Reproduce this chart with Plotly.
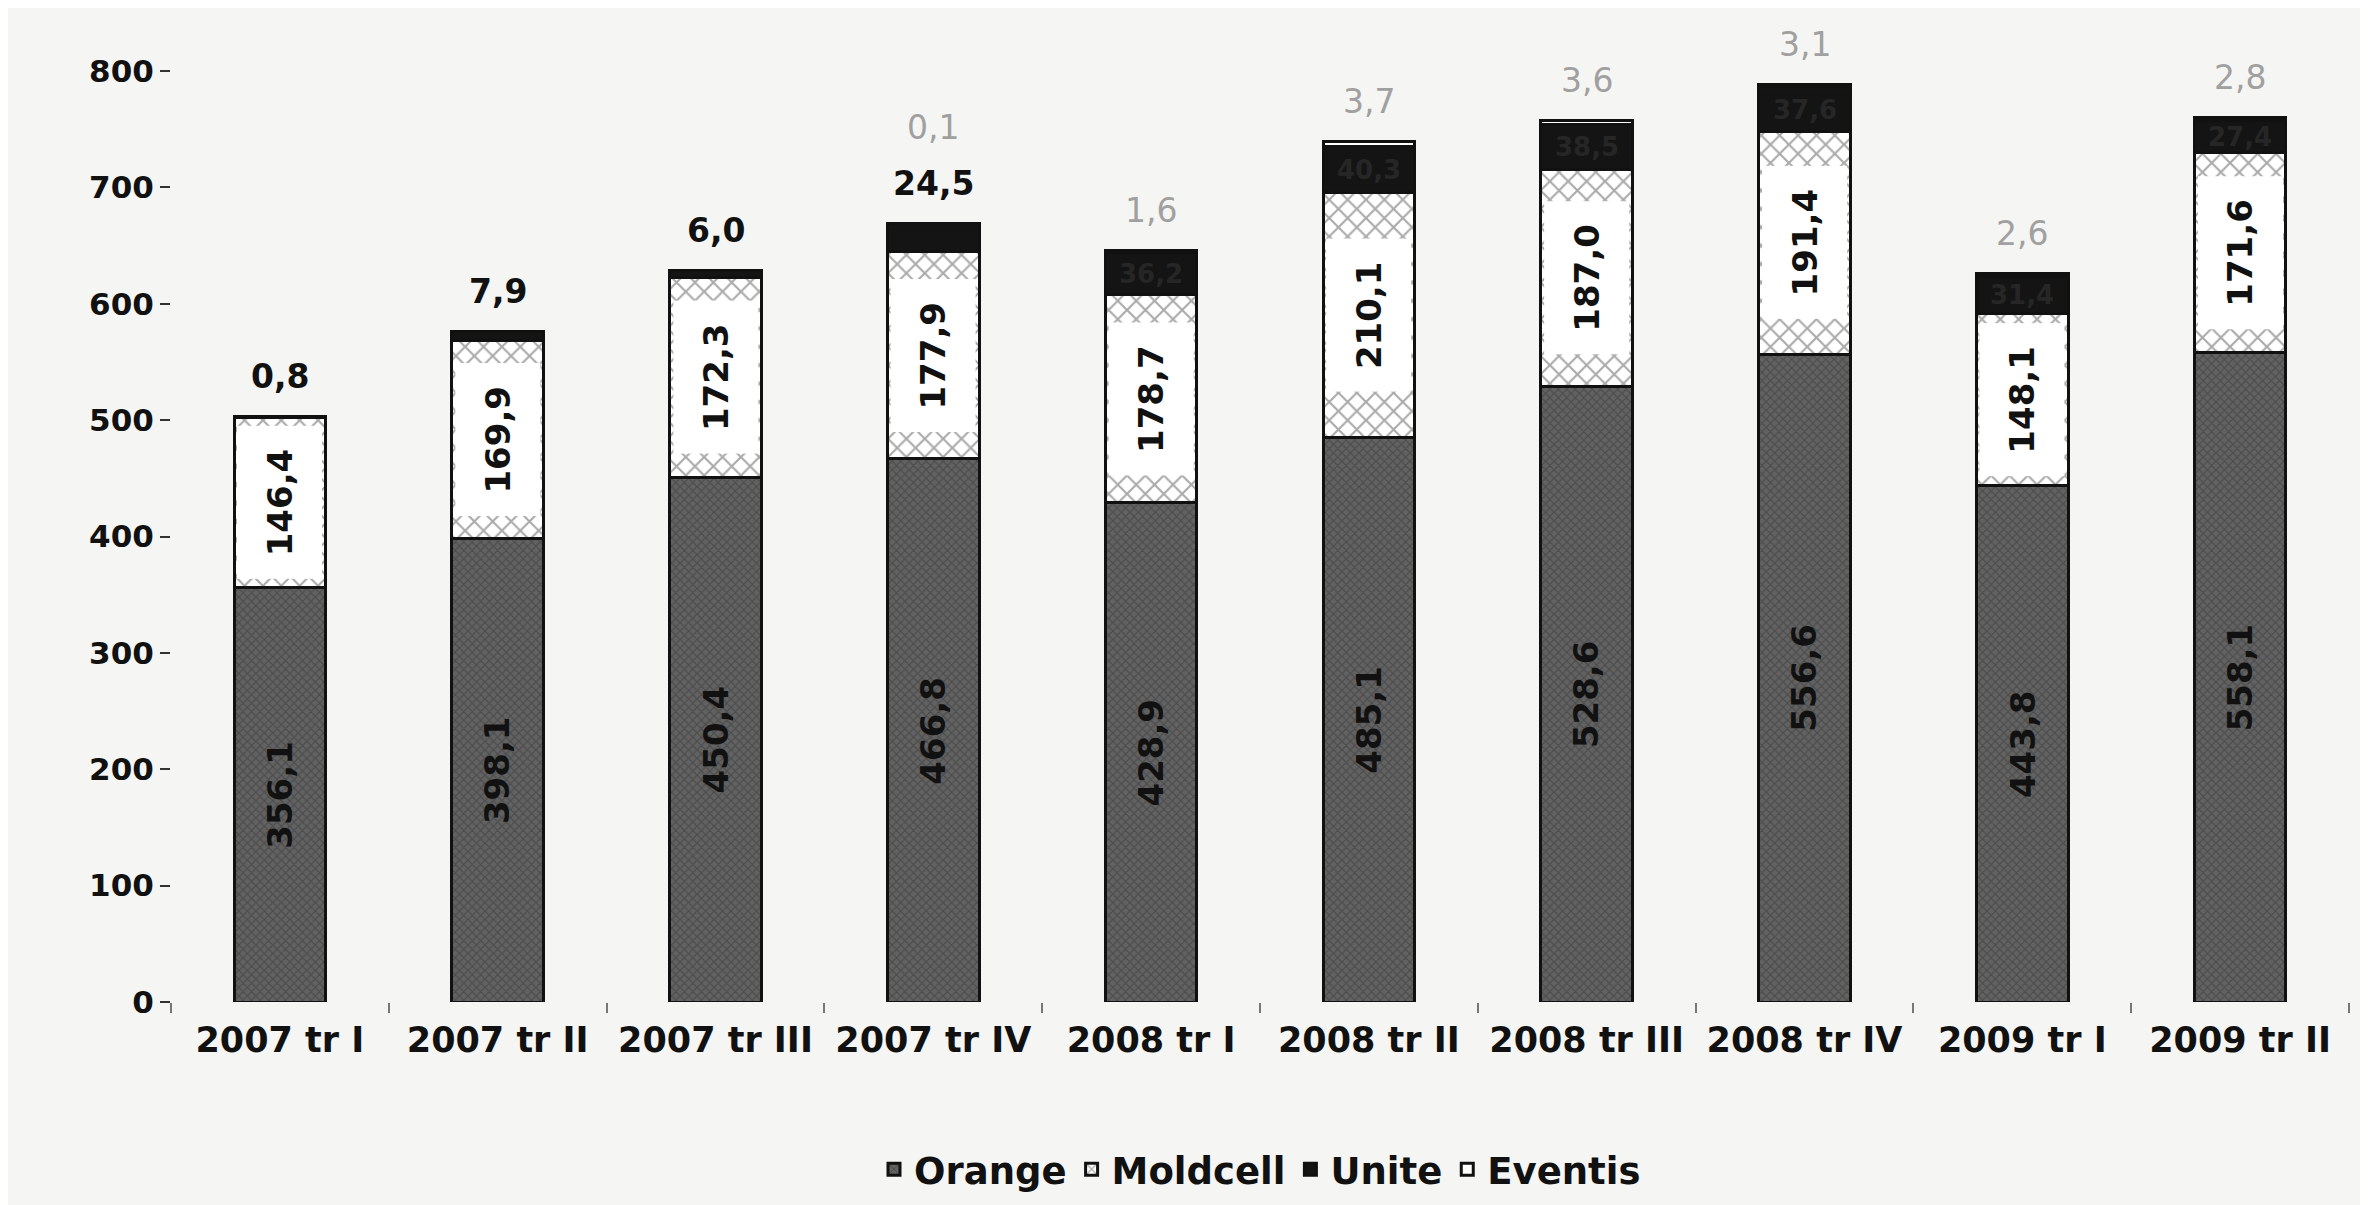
import plotly.graph_objects as go

categories = ["2007 tr I", "2007 tr II", "2007 tr III", "2007 tr IV", "2008 tr I",
              "2008 tr II", "2008 tr III", "2008 tr IV", "2009 tr I", "2009 tr II"]
orange = [356.1, 398.1, 450.4, 466.8, 428.9, 485.1, 528.6, 556.6, 443.8, 558.1]
moldcell = [146.4, 169.9, 172.3, 177.9, 178.7, 210.1, 187.0, 191.4, 148.1, 171.6]
unite = [0.8, 7.9, 6.0, 24.5, 36.2, 40.3, 38.5, 37.6, 31.4, 27.4]
eventis = [0, 0, 0, 0.1, 1.6, 3.7, 3.6, 3.1, 2.6, 2.8]
y_ticks = [0, 100, 200, 300, 400, 500, 600, 700, 800]

FONT = "DejaVu Sans"
BG = "#f5f5f3"


def fmt(v):
    return f"{v:.1f}".replace(".", ",")


fig = go.Figure()
fig.add_bar(name="Orange", x=categories, y=orange, width=0.42,
            marker=dict(color="#626262", line=dict(color="#111", width=3),
                        pattern=dict(shape="x", fgcolor="#333", size=6, solidity=0.35)))
fig.add_bar(name="Moldcell", x=categories, y=moldcell, width=0.42,
            marker=dict(color="white", line=dict(color="#111", width=3),
                        pattern=dict(shape="x", fgcolor="#555", bgcolor="white", size=13, solidity=0.3)))
fig.add_bar(name="Unite", x=categories, y=unite, width=0.42,
            marker=dict(color="#141414", line=dict(color="#111", width=3)))
fig.add_bar(name="Eventis", x=categories, y=eventis, width=0.42,
            marker=dict(color="white", line=dict(color="#111", width=3)))

annotations = []
for i, c in enumerate(categories):
    total = orange[i] + moldcell[i] + unite[i] + eventis[i]
    annotations.append(dict(x=c, y=orange[i] / 2, text=fmt(orange[i]), textangle=-90,
                            showarrow=False, font=dict(family=FONT, size=34, color="#111", weight="bold")))
    annotations.append(dict(x=c, y=orange[i] + moldcell[i] / 2, text=fmt(moldcell[i]), textangle=-90,
                            showarrow=False, bgcolor="white", borderpad=22,
                            font=dict(family=FONT, size=34, color="#111", weight="bold")))
    above = []
    if unite[i] < 25:
        above.append((fmt(unite[i]), "#111"))
    else:
        annotations.append(dict(x=c, y=orange[i] + moldcell[i] + unite[i] / 2, text=fmt(unite[i]),
                                showarrow=False,
                                font=dict(family=FONT, size=26, color="#262626", weight="bold")))
    if eventis[i] > 0:
        above.append((fmt(eventis[i]), "#a0a0a0"))
    for k, (t, col) in enumerate(above):
        annotations.append(dict(x=c, y=total, text=t, showarrow=False, yanchor="middle",
                                yshift=40 + 56 * k,
                                font=dict(family=FONT, size=33, color=col,
                                          weight="bold" if col == "#111" else "normal")))

fig.update_layout(
    width=2368, height=1205,
    barmode="stack", bargap=0.58,
    paper_bgcolor=BG, plot_bgcolor=BG,
    margin=dict(l=163, r=27, t=63, b=200),
    font=dict(family=FONT, color="#111", weight="bold"),
    showlegend=True,
    legend=dict(orientation="h", x=0.5, xanchor="center", y=-0.18, yanchor="middle",
                font=dict(family=FONT, size=37, color="#111", weight="bold"),
                itemwidth=30, bgcolor="rgba(0,0,0,0)", traceorder="normal"),
    annotations=annotations,
)
fig.update_xaxes(type="category", showgrid=False, showline=False, zeroline=False,
                 ticks="outside", tickson="boundaries", ticklen=10, tickcolor="#777", tickwidth=2,
                 ticklabelstandoff=14,
                 tickfont=dict(family=FONT, size=35, color="#111", weight="bold"))
fig.update_yaxes(range=[0, 800], tickvals=y_ticks, showgrid=False, showline=False, zeroline=False,
                 ticks="outside", ticklen=10, tickcolor="#333", tickwidth=2,
                 tickfont=dict(family=FONT, size=31, color="#111", weight="bold"))

fig.write_html("out.html")
